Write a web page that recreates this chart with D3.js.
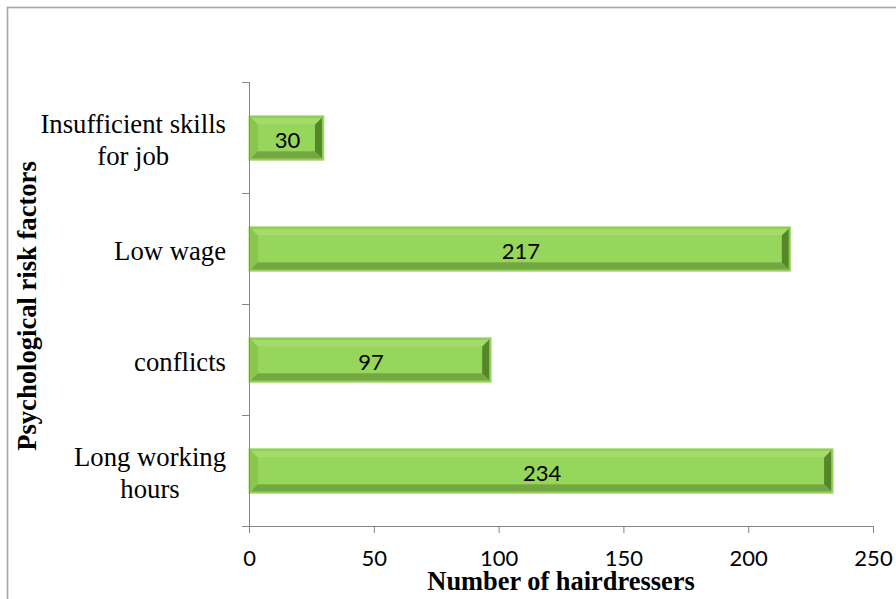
<!DOCTYPE html>
<html>
<head>
<meta charset="utf-8">
<script src="https://cdn.jsdelivr.net/npm/d3@7"></script>
<style>
  html, body { margin: 0; padding: 0; background: #fff; }
  svg { display: block; }
</style>
</head>
<body>
<svg id="chart" width="896" height="599"></svg>
<script>
// Psychological risk factors reported by hairdressers
const categories = ["Long working hours", "conflicts", "Low wage", "Insufficient skills for job"];
const labelLines = [["Long working", "hours"], ["conflicts"], ["Low wage"], ["Insufficient skills", "for job"]];
const values = [234, 97, 217, 30];
const xTicks = [0, 50, 100, 150, 200, 250];
const xTitle = "Number of hairdressers";
const yTitle = "Psychological risk factors";

const plot = { left: 249, right: 873, top: 82, bottom: 526 };

const svg = d3.select("#chart");

// outer frame
svg.append("rect")
  .attr("x", 7.5).attr("y", 7.5)
  .attr("width", 910).attr("height", 610)
  .attr("fill", "none").attr("stroke", "#a6a6a6").attr("stroke-width", 1.6);

const x = d3.scaleLinear().domain([0, 250]).range([plot.left, plot.right]);
const y = d3.scaleBand()
  .domain(categories.slice().reverse())
  .range([plot.top, plot.bottom])
  .paddingInner(0.6)
  .paddingOuter(0.3);

const axisColor = "#868686";

// bars with a bevelled look
const bars = svg.append("g");
categories.forEach((c, i) => {
  const x0 = x(0), x1 = x(values[i]);
  const y0 = y(c) + 0.5, y1 = y0 + y.bandwidth();
  const g = bars.append("g");
  g.append("rect")
    .attr("x", x0).attr("y", y0)
    .attr("width", x1 - x0).attr("height", y1 - y0)
    .attr("fill", "#8bc94d").attr("stroke", "#a9dc78").attr("stroke-width", 1);
  const o = 2, b = 7;
  const ax = x0 + o, bx = x1 - o, ay = y0 + o, by = y1 - o;
  const poly = (pts, fill) => g.append("polygon")
    .attr("points", pts.map(p => p.join(",")).join(" "))
    .attr("fill", fill);
  poly([[ax, ay], [bx, ay], [bx - b, ay + b], [ax + b, ay + b]], "#a3dc6a");
  poly([[ax, ay], [ax + b, ay + b], [ax + b, by - b], [ax, by]], "#88c64d");
  poly([[bx, ay], [bx, by], [bx - b, by - b], [bx - b, ay + b]], "#558629");
  poly([[ax, by], [bx, by], [bx - b, by - b], [ax + b, by - b]], "#73a742");
  g.append("rect")
    .attr("x", ax + b).attr("y", ay + b)
    .attr("width", Math.max(0, bx - ax - 2 * b)).attr("height", Math.max(0, by - ay - 2 * b))
    .attr("fill", "#96d65a");
  g.append("text")
    .attr("x", (x0 + x1) / 2 + 1)
    .attr("y", (y0 + y1) / 2 + 1)
    .attr("text-anchor", "middle")
    .attr("dominant-baseline", "central")
    .attr("font-family", "Lato, 'Open Sans', sans-serif")
    .attr("font-size", 22)
    .attr("fill", "#000")
    .text(values[i]);
});

// x axis
const xAxis = svg.append("g")
  .attr("transform", `translate(0,${plot.bottom})`)
  .call(d3.axisBottom(x).tickValues(xTicks).tickSize(7).tickSizeOuter(0).tickPadding(17));
xAxis.select(".domain").attr("stroke", axisColor).attr("d", `M${plot.left - 7},0.5H${plot.right}`);
xAxis.selectAll(".tick line").attr("stroke", axisColor);
xAxis.selectAll(".tick text")
  .attr("font-family", "Lato, 'Open Sans', sans-serif")
  .attr("font-size", 22)
  .attr("fill", "#000");

// y axis: line with ticks at category boundaries
const yAxis = svg.append("g");
yAxis.append("line")
  .attr("x1", plot.left + 0.5).attr("x2", plot.left + 0.5)
  .attr("y1", plot.top).attr("y2", plot.bottom)
  .attr("stroke", axisColor);
const bounds = d3.range(categories.length + 1).map(k => plot.top + k * y.step());
yAxis.selectAll("line.tk").data(bounds).join("line")
  .attr("class", "tk")
  .attr("x1", plot.left - 7).attr("x2", plot.left)
  .attr("y1", d => Math.round(d) + 0.5).attr("y2", d => Math.round(d) + 0.5)
  .attr("stroke", axisColor);

// category labels, each block centred on its widest line and right-aligned to the axis
const labelG = svg.append("g")
  .attr("font-family", "'Liberation Serif', 'Times New Roman', serif")
  .attr("font-size", 26.7)
  .attr("fill", "#000");
categories.forEach((c, i) => {
  const lines = labelLines[i];
  const t = labelG.append("text").attr("text-anchor", "middle");
  const cy = y(c) + y.bandwidth() / 2 + 2;
  const lh = 32;
  lines.forEach((ln, j) => {
    t.append("tspan")
      .attr("y", cy + (j - (lines.length - 1) / 2) * lh)
      .attr("dominant-baseline", "central")
      .text(ln);
  });
  let maxW = 0;
  t.selectAll("tspan").each(function () { maxW = Math.max(maxW, this.getComputedTextLength()); });
  t.selectAll("tspan").attr("x", 226 - maxW / 2);
});

// axis titles
svg.append("text")
  .attr("x", (plot.left + plot.right) / 2)
  .attr("y", 590)
  .attr("text-anchor", "middle")
  .attr("font-family", "'Liberation Serif', 'Times New Roman', serif")
  .attr("font-weight", "bold")
  .attr("font-size", 26.4)
  .text(xTitle);

svg.append("text")
  .attr("transform", `translate(36,306) rotate(-90)`)
  .attr("text-anchor", "middle")
  .attr("font-family", "'Liberation Serif', 'Times New Roman', serif")
  .attr("font-weight", "bold")
  .attr("font-size", 26.6)
  .text(yTitle);
</script>
</body>
</html>
